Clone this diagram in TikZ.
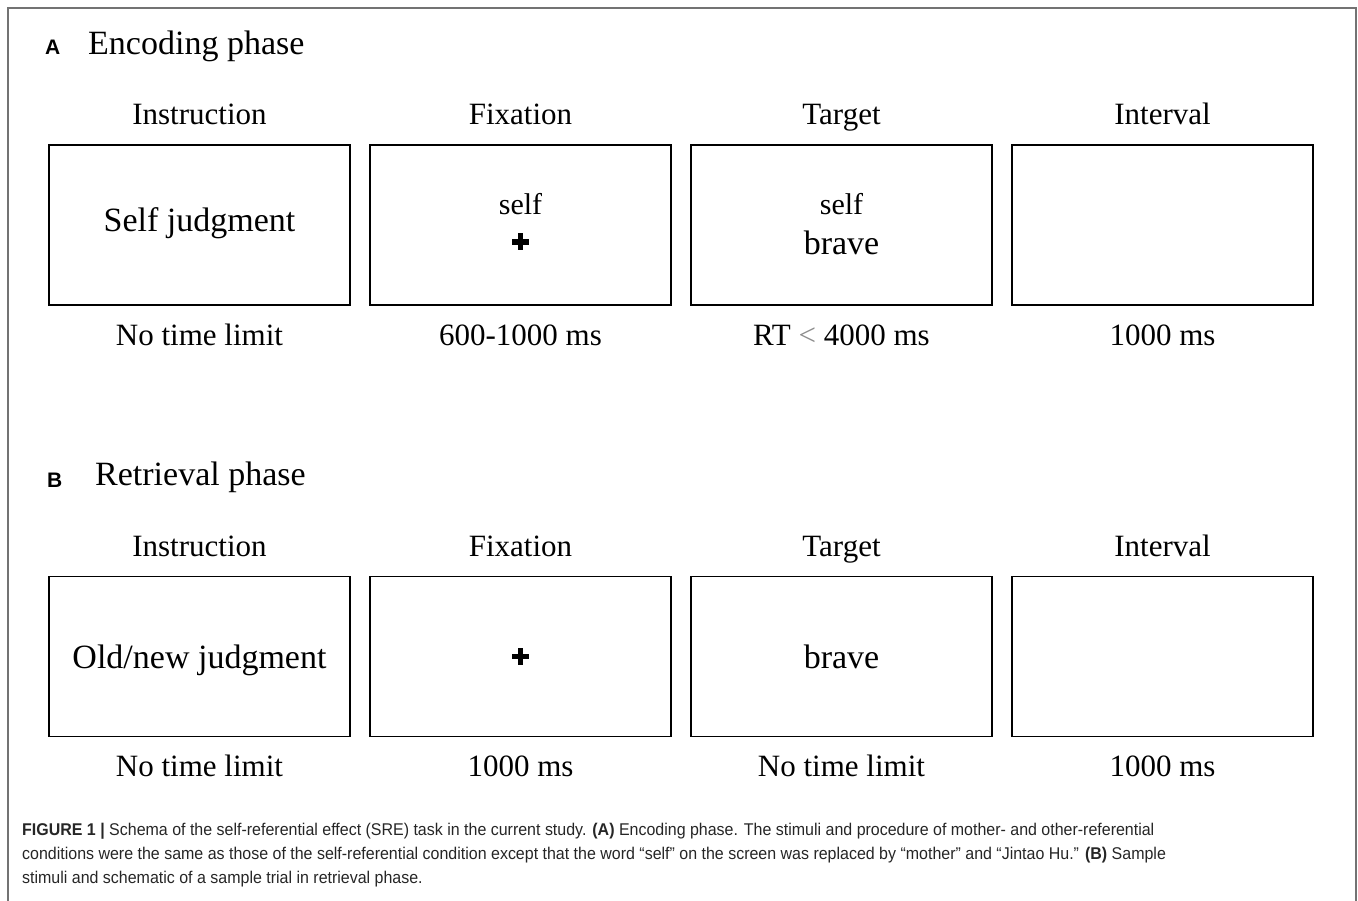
\documentclass[tikz,border=0pt]{standalone}
\usepackage{fontspec}
\setmainfont{Liberation Serif}
\setsansfont{Liberation Sans}
\newfontfamily\capfont[FakeStretch=0.94]{Liberation Sans}
\usetikzlibrary{positioning}

\begin{document}
\begin{tikzpicture}[x=1pt,y=1pt,
	screen/.style={minimum width=301pt,minimum height=160pt,outer sep=0pt,inner sep=0pt,draw=black,line width=1.8pt},
	stage/.style={font=\fontsize{31}{31}\selectfont,text height=21pt,text depth=7pt,inner sep=0pt},
	phase/.style={font=\fontsize{34}{34}\selectfont,anchor=base west,inner sep=0pt},
	panel/.style={font=\sffamily\bfseries\fontsize{21}{21}\selectfont,anchor=base west,inner sep=0pt},
	word/.style={font=\fontsize{34}{34}\selectfont,anchor=base,inner sep=0pt},
	cue/.style={font=\fontsize{30}{30}\selectfont,anchor=base,inner sep=0pt},
	fixcross/.style={minimum size=17pt,inner sep=0pt,outer sep=0pt,path picture={
		\fill[black] (path picture bounding box.west) ++(0,-2.8pt) rectangle ++(17pt,5.6pt);
		\fill[black] (path picture bounding box.south) ++(-2.8pt,0) rectangle ++(5.6pt,17pt);}},
	caption/.style={font=\capfont\fontsize{17}{17}\selectfont,text=black!85,anchor=base west,inner sep=0pt}]
	\useasboundingbox (0,0) rectangle (1358,-901);
	\draw[black!55,line width=1.4pt] (8,-901) -- (8,-8) -- (1356,-8) -- (1356,-901);

	% encoding phase
	\node[panel] (lbl_a) at (45,-55) {A};
	\node[phase] (phase_a) at (88,-55) {Encoding phase};
	\node[screen] (instr_a) at (199.5,-225) {};
	\node[screen,right=20pt of instr_a] (fix_a) {};
	\node[screen,right=20pt of fix_a] (targ_a) {};
	\node[screen,right=20pt of targ_a] (intv_a) {};

	\node[stage,above=13pt of instr_a] (instr_a_txt) {Instruction};
	\node[stage,above=13pt of fix_a] (fix_a_txt) {Fixation};
	\node[stage,above=13pt of targ_a] (targ_a_txt) {Target};
	\node[stage,above=13pt of intv_a] (intv_a_txt) {Interval};

	\node[word] (instr_a_word) at ([yshift=-7pt]instr_a.center) {Self judgment};
	\node[cue] (fix_a_cue) at ([yshift=10pt]fix_a.center) {self};
	\node[fixcross] (fix_a_cross) at ([yshift=-17pt]fix_a.center) {};
	\node[cue] (targ_a_cue) at ([yshift=10pt]targ_a.center) {self};
	\node[word] (targ_a_word) at ([yshift=-30pt]targ_a.center) {brave};

	\node[stage,below=19pt of instr_a] (instr_a_time) {No time limit};
	\node[stage,below=19pt of fix_a] (fix_a_time) {600-1000 ms};
	\node[stage,below=19pt of targ_a] (targ_a_time) {RT {\color{black!45}<} 4000 ms};
	\node[stage,below=19pt of intv_a] (intv_a_time) {1000 ms};

	% retrieval phase
	\node[panel] (lbl_b) at (47,-487) {B};
	\node[phase] (phase_b) at (95,-485) {Retrieval phase};
	\node[screen] (instr_b) at (199.5,-656.5) {};
	\node[screen,right=20pt of instr_b] (fix_b) {};
	\node[screen,right=20pt of fix_b] (targ_b) {};
	\node[screen,right=20pt of targ_b] (intv_b) {};

	\node[stage,above=13pt of instr_b] (instr_b_txt) {Instruction};
	\node[stage,above=13pt of fix_b] (fix_b_txt) {Fixation};
	\node[stage,above=13pt of targ_b] (targ_b_txt) {Target};
	\node[stage,above=13pt of intv_b] (intv_b_txt) {Interval};

	\node[word] (instr_b_word) at ([yshift=-11.5pt]instr_b.center) {Old/new judgment};
	\node[fixcross] (fix_b_cross) at (fix_b.center) {};
	\node[word] (targ_b_word) at ([yshift=-11.5pt]targ_b.center) {brave};

	\node[stage,below=19pt of instr_b] (instr_b_time) {No time limit};
	\node[stage,below=19pt of fix_b] (fix_b_time) {1000 ms};
	\node[stage,below=19pt of targ_b] (targ_b_time) {No time limit};
	\node[stage,below=19pt of intv_b] (intv_b_time) {1000 ms};

	% caption
	\node[caption] (cap_1) at (22,-835) {\textbf{FIGURE 1 |} Schema of the self-referential effect (SRE) task in the current study. \textbf{(A)} Encoding phase. The stimuli and procedure of mother- and other-referential};
	\node[caption] (cap_2) at (22,-859) {conditions were the same as those of the self-referential condition except that the word “self” on the screen was replaced by “mother” and “Jintao Hu.” \textbf{(B)} Sample};
	\node[caption] (cap_3) at (22,-883) {stimuli and schematic of a sample trial in retrieval phase.};
\end{tikzpicture}
\end{document}
